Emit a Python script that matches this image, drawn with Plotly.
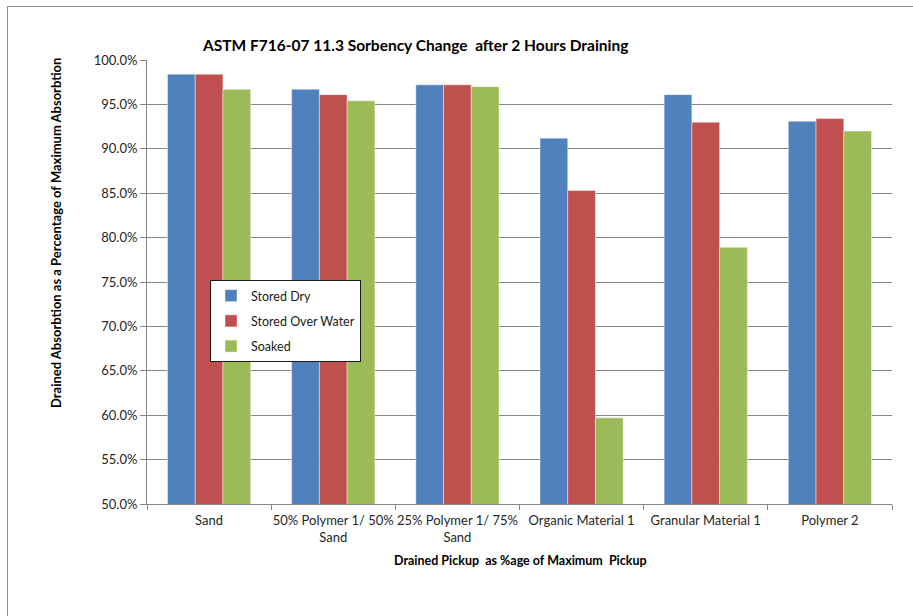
import plotly.graph_objects as go

# Sorbency retained after 2 hours of draining (fraction of maximum absorption)
categories = [
    "Sand",
    "50% Polymer 1/ 50%<br>Sand",
    "25% Polymer 1/ 75%<br>Sand",
    "Organic Material 1",
    "Granular Material 1",
    "Polymer 2",
]
stored_dry = [0.984, 0.967, 0.972, 0.912, 0.961, 0.931]
stored_over_water = [0.984, 0.961, 0.972, 0.853, 0.930, 0.934]
soaked = [0.967, 0.954, 0.970, 0.597, 0.789, 0.920]

series_names = ["Stored Dry", "Stored Over Water", "Soaked"]
series_values = [stored_dry, stored_over_water, soaked]
series_colors = ["#4F81BD", "#C0504D", "#9BBB59"]

W, H = 913, 616
L, R, T, B = 147, 21, 60, 112  # plot area margins in px
PW, PH = W - L - R, H - T - B


def px_x(x):
    return (x - L) / PW


def px_y(y):
    return (H - B - y) / PH


FONT = "Lato, 'Open Sans', sans-serif"

fig = go.Figure()
for name, vals, col in zip(series_names, series_values, series_colors):
    fig.add_trace(go.Bar(
        x=categories, y=vals, name=name, legendgroup=name,
        marker=dict(color=col, line=dict(color="rgba(255,255,255,0.7)", width=0.6)),
    ))

fig.update_layout(
    width=W, height=H,
    margin=dict(l=L, r=R, t=T, b=B),
    paper_bgcolor="white", plot_bgcolor="white",
    barmode="group", bargap=0.33, bargroupgap=0,
    font=dict(family=FONT, size=13, color="#262626"),
    showlegend=True,
    legend=dict(
        x=px_x(210), y=px_y(280), xanchor="left", yanchor="top",
        bgcolor="white", bordercolor="#1a1a1a", borderwidth=1,
        font=dict(family=FONT, size=12.5, color="#1a1a1a"),
        tracegroupgap=6, itemclick=False, itemwidth=30,
    ),
    xaxis=dict(
        showline=True, linecolor="#868686", linewidth=1,
        ticks="outside", tickson="boundaries", ticklen=5, tickcolor="#868686",
        tickfont=dict(family=FONT, size=13, color="#262626"),
        tickangle=0, automargin=False, ticklabelstandoff=4,
        showgrid=False,
    ),
    yaxis=dict(
        range=[0.5, 1.0], dtick=0.05, tick0=0.5, tickformat=".1%",
        showline=True, linecolor="#868686", linewidth=1,
        ticks="outside", ticklen=6, tickcolor="#868686",
        tickfont=dict(family=FONT, size=13, color="#262626"),
        showgrid=True, gridcolor="#868686", gridwidth=1,
        zeroline=False, automargin=False,
    ),
)

annotations = [
    dict(text="<b>ASTM F716-07 11.3 Sorbency Change  after 2 Hours Draining</b>",
         x=px_x(415), y=px_y(45), xref="paper", yref="paper",
         xanchor="center", yanchor="middle", showarrow=False,
         font=dict(family=FONT, size=15.5, color="#000000")),
    dict(text="<b>Drained Absorbtion as a Percentage of Maximum Absorbtion</b>",
         x=px_x(56), y=px_y(233), xref="paper", yref="paper",
         xanchor="center", yanchor="middle", showarrow=False, textangle=-90,
         font=dict(family=FONT, size=13, color="#000000")),
    dict(text="<b>Drained Pickup  as %age of Maximum  Pickup</b>",
         x=px_x(520), y=px_y(560), xref="paper", yref="paper",
         xanchor="center", yanchor="middle", showarrow=False,
         font=dict(family=FONT, size=12.5, color="#000000")),
]
fig.update_layout(annotations=annotations)

# chart frame
fig.add_shape(type="rect", xref="paper", yref="paper",
              x0=px_x(7.5), x1=px_x(960), y0=px_y(660), y1=px_y(6.5),
              line=dict(color="#8c8c8c", width=1), fillcolor="rgba(0,0,0,0)",
              layer="below")

fig.write_html("out.html")
